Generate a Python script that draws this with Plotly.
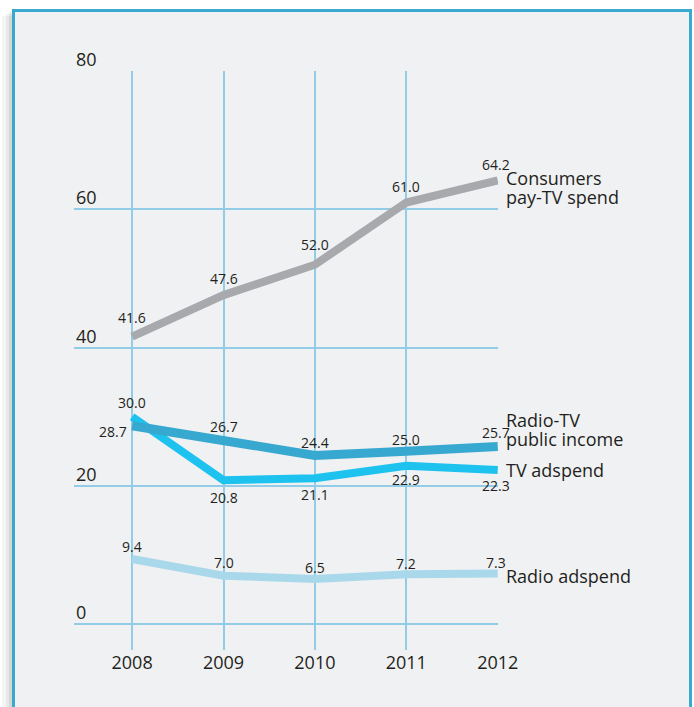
import plotly.graph_objects as go

years = [2008, 2009, 2010, 2011, 2012]
consumers_paytv = [41.6, 47.6, 52.0, 61.0, 64.2]
radio_tv_public = [28.7, 26.7, 24.4, 25.0, 25.7]
tv_adspend = [30.0, 20.8, 21.1, 22.9, 22.3]
radio_adspend = [9.4, 7.0, 6.5, 7.2, 7.3]
y_ticks = [0, 20, 40, 60, 80]

FONT = "Open Sans"
TXT = "#231f20"
GRID = "#93cce6"

W, H = 694, 707
L, R, T, B = 74, 694 - 498, 71, 707 - 650
PW, PH = W - L - R, H - T - B

def px_x(p):
    return (p - L) / PW

def px_y(p):
    return (H - B - p) / PH

fig = go.Figure()

series = [
    ("Consumers pay-TV spend", consumers_paytv, "#a7a9ac", 8),
    ("Radio adspend", radio_adspend, "#aad8eb", 8),
    ("TV adspend", tv_adspend, "#1ec2ef", 8),
    ("Radio-TV public income", radio_tv_public, "#37a8cf", 9),
]
for name, vals, col, w in series:
    fig.add_trace(go.Scatter(x=years, y=vals, mode="lines", name=name,
                             line=dict(color=col, width=w), showlegend=False,
                             hoverinfo="skip"))

ann = []
def lab(x, y, dx, dy, xa="center"):
    ann.append(dict(x=x, y=y, xref="x", yref="y", text=f"{y:.1f}", showarrow=False,
                    xshift=dx, yshift=dy, xanchor=xa,
                    font=dict(family=FONT, size=14, color=TXT)))

cons_dy = [19, 17, 20, 16, 16]
for i, (x, v) in enumerate(zip(years, consumers_paytv)):
    lab(x, v, -2 if i == 4 else 0, cons_dy[i])

pub_dy = [-6, 13, 13, 12, 14]
for i, (x, v) in enumerate(zip(years, radio_tv_public)):
    if i == 0:
        lab(x, v, -3, pub_dy[i], xa="right")
    else:
        lab(x, v, -2 if i == 4 else 0, pub_dy[i])

tv_dy = [14, -17, -16, -14, -16]
for i, (x, v) in enumerate(zip(years, tv_adspend)):
    lab(x, v, -2 if i == 4 else 0, tv_dy[i])

rad_dy = [13, 13, 12, 11, 11]
for i, (x, v) in enumerate(zip(years, radio_adspend)):
    lab(x, v, -2 if i == 4 else 0, rad_dy[i])

def name_line(text, y, dy):
    ann.append(dict(x=years[-1], y=y, xref="x", yref="y", text=text, showarrow=False,
                    xanchor="left", yanchor="middle", xshift=7, yshift=dy, borderpad=0,
                    font=dict(family=FONT, size=18, color=TXT)))

name_line("Consumers", consumers_paytv[-1], 2)
name_line("pay-TV spend", consumers_paytv[-1], -17)
name_line("Radio-TV", radio_tv_public[-1], 26)
name_line("public income", radio_tv_public[-1], 7)
name_line("TV adspend", tv_adspend[-1], 0)
name_line("Radio adspend", radio_adspend[-1], -2)

for v in y_ticks:
    ann.append(dict(x=0, y=v, xref="paper", yref="y", text=str(v), showarrow=False,
                    xanchor="left", yanchor="bottom", yshift=-2,
                    font=dict(family=FONT, size=18, color=TXT)))

shapes = [
    dict(type="rect", xref="paper", yref="paper", x0=px_x(2), x1=px_x(13),
         y0=px_y(730), y1=px_y(16), fillcolor="rgba(0,0,0,0.04)", line_width=0, layer="below"),
    dict(type="rect", xref="paper", yref="paper", x0=px_x(6), x1=px_x(13),
         y0=px_y(730), y1=px_y(14), fillcolor="rgba(0,0,0,0.05)", line_width=0, layer="below"),
    dict(type="rect", xref="paper", yref="paper", x0=px_x(9), x1=px_x(13),
         y0=px_y(730), y1=px_y(12), fillcolor="rgba(0,0,0,0.07)", line_width=0, layer="below"),
    dict(type="rect", xref="paper", yref="paper", x0=px_x(13.5), x1=px_x(690.5),
         y0=px_y(730), y1=px_y(10.5), fillcolor="#f0f1f3",
         line=dict(color="#39a9d2", width=3), layer="below"),
]

fig.update_layout(
    width=W, height=H,
    margin=dict(l=L, r=R, t=T, b=B, pad=0),
    paper_bgcolor="white", plot_bgcolor="rgba(0,0,0,0)",
    annotations=ann, shapes=shapes,
    xaxis=dict(range=[2008 - (132 - 74) / 91.25, 2012.003], tickvals=years,
               ticktext=[str(y) for y in years], showgrid=True, gridcolor=GRID,
               gridwidth=1.5, zeroline=False, showline=False, ticks="",
               tickfont=dict(family=FONT, size=18, color=TXT), fixedrange=True),
    yaxis=dict(range=[-(650 - 624) / 6.9125, 80.03], tickvals=y_ticks, showticklabels=False,
               showgrid=True, gridcolor=GRID, gridwidth=1.5, zeroline=False,
               showline=False, ticks="", fixedrange=True),
    font=dict(family=FONT, color=TXT),
)

fig.write_html("out.html", config={"displayModeBar": False},
               post_script="document.body.style.margin='0';document.body.style.overflow='hidden';")
